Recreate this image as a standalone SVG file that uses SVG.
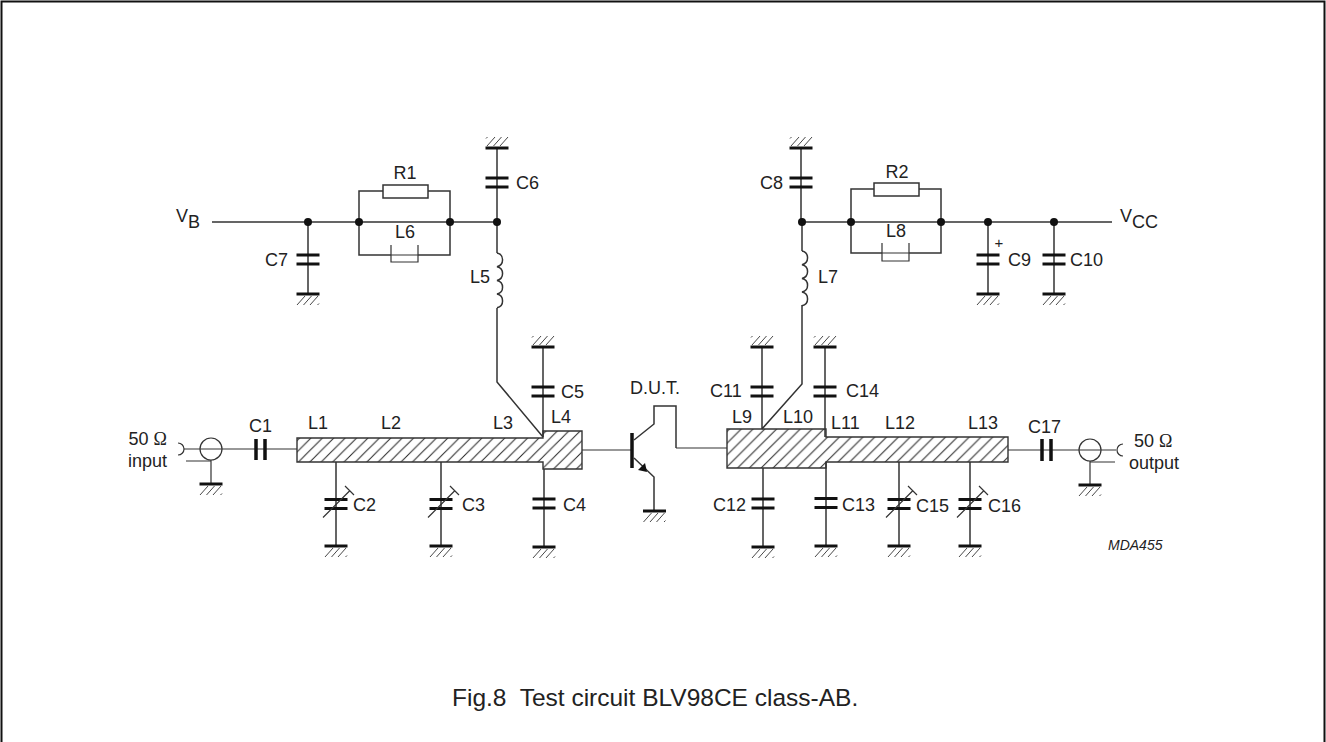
<svg xmlns="http://www.w3.org/2000/svg" width="1326" height="742" viewBox="0 0 1326 742">
<style>
text{font-family:"Liberation Sans",Arial,sans-serif;font-size:18px;fill:#222}
.w{fill:none;stroke:#333;stroke-width:1.5}
.n{fill:none;stroke:#333;stroke-width:1.2}
.p{fill:none;stroke:#111;stroke-width:3}
.d{fill:#111}
.m{text-anchor:middle}
.o{font-family:"Liberation Serif",serif}
</style>
<defs>
<pattern id="hatchL" patternUnits="userSpaceOnUse" width="11.4" height="11.4" patternTransform="translate(8 0)"><path d="M-1 12.4L12.4 -1M-1 1L1 -1M10.4 12.4L12.4 10.4" stroke="#222" stroke-width="1" fill="none"/></pattern>
<pattern id="hatchR" patternUnits="userSpaceOnUse" width="11.8" height="11.8" patternTransform="translate(2 0)"><path d="M-1 12.8L12.8 -1M-1 1L1 -1M10.8 12.8L12.8 10.8" stroke="#222" stroke-width="1" fill="none"/></pattern>
<g id="gnd"><path class="p" d="M-11.5 0H11.5"/><path d="M-11 11L-3 2M-4.5 11L3.5 2M2 11L10 2M9.5 11L11 9.5" fill="none" stroke="#333" stroke-width="0.9"/></g>
<g id="cap"><path class="p" d="M-11.5 -4.5H11.5M-11.5 4.5H11.5"/></g>
<g id="vcap"><path class="p" d="M-11.5 -4.5H11.5M-11.5 4.5H11.5"/><path class="n" d="M-13 13.5L14 -13.5M9 -18L18 -9"/></g>
<g id="coil"><path class="w" d="M0 0A7 7 0 0 1 0 13.7A7 7 0 0 1 0 27.4A7 7 0 0 1 0 41.1A7 7 0 0 1 0 54.8"/></g>
</defs>
<rect width="1326" height="742" fill="#fff"/>
<path d="M1.500 742V1.500H1324.500V742" fill="none" stroke="#111" stroke-width="2"/>
<g id="connectors">
<path class="w" d="M212 222H497M497 148V222V253M497 308V382L543 437M308 222V294M543 347V437M544 469V547M336 462V546M441 462V546"/>
<path class="w" d="M359 222V191H383M428 191H450V255H418M391 255H359V222"/>
<path class="w" d="M802 222H1112M801 148V222M802 222V251M802 305V384L762 429M762 347V429M825 347V437M763 468V547M826 462V546M899 462V546M970 462V546M988 222V294M1054 222V294"/>
<path class="w" d="M851 222V189H874M919 189H941V253H909M882 253H851V222"/>
<path class="n" d="M184 449H297M186 461H211M211 460V484M582 450H632M676 448H727M1008 450H1116M1090 462H1115M1090 461V485"/>
<path class="w" d="M634 440L654 424V406H676V448M634 458L654 477V511"/>
</g>
<g id="caption"><text x="452" y="706" xml:space="preserve" style="font-size:24.5px;white-space:pre">Fig.8  Test circuit BLV98CE class-AB.</text></g>
<g id="drawing-code"><text x="1108" y="550" style="font-size:14px;font-style:italic">MDA455</text></g>
<g id="VB"><text x="176" y="222">V</text><text x="188" y="228">B</text></g>
<g id="VCC"><text x="1120" y="222">V</text><text x="1132" y="228">CC</text></g>
<g id="J1"><circle class="n" cx="211" cy="449" r="11"/><path class="n" d="M178 443A6 6 0 0 1 178 455"/><use href="#gnd" x="211" y="484"/><text x="167" y="445" text-anchor="end">50 <tspan class="o">Ω</tspan></text><text x="167" y="467" text-anchor="end">input</text></g>
<g id="J2"><circle class="n" cx="1090" cy="450" r="11"/><path class="n" d="M1123 444A6 6 0 0 0 1123 456"/><use href="#gnd" x="1090" y="485"/><text x="1134" y="447">50 <tspan class="o">Ω</tspan></text><text x="1129" y="469">output</text></g>
<g id="C1"><path class="p" style="stroke-width:3.5" d="M256 439V460M265 439V460"/><text x="249" y="432">C1</text></g>
<g id="C17"><path class="p" style="stroke-width:3.5" d="M1042 439V461M1051 439V461"/><text x="1028" y="433">C17</text></g>
<g id="TL1"><path fill="url(#hatchL)" stroke="#333" stroke-width="1.4" d="M297 438H543V431H582V469H543V462H297Z"/><text x="308" y="429">L1</text><text x="381" y="429">L2</text><text x="493" y="429">L3</text><text x="551" y="423">L4</text></g>
<g id="TL2"><path fill="url(#hatchR)" stroke="#333" stroke-width="1.4" d="M727 429H826V437H1008V462H826V468H727Z"/><text x="732" y="423">L9</text><text x="783" y="423">L10</text><text x="831" y="429">L11</text><text x="885" y="429">L12</text><text x="968" y="429">L13</text></g>
<g id="C2"><use href="#vcap" x="336" y="504"/><use href="#gnd" x="336" y="546"/><text x="353" y="511">C2</text></g>
<g id="C3"><use href="#vcap" x="441" y="504"/><use href="#gnd" x="441" y="546"/><text x="462" y="511">C3</text></g>
<g id="C4"><use href="#cap" x="544" y="503.5"/><use href="#gnd" x="544" y="547"/><text x="563" y="511">C4</text></g>
<g id="C5"><use href="#cap" x="543" y="391.5"/><use href="#gnd" transform="translate(543 347) rotate(180)"/><text x="561" y="398">C5</text></g>
<g id="C6"><use href="#cap" x="497" y="182.5"/><use href="#gnd" transform="translate(497 148) rotate(180)"/><text x="516" y="189">C6</text></g>
<g id="C7"><use href="#cap" x="308" y="259.5"/><use href="#gnd" x="308" y="294"/><text x="265" y="266">C7</text></g>
<g id="C8"><use href="#cap" x="801" y="182.5"/><use href="#gnd" transform="translate(801 148) rotate(180)"/><text x="760" y="189">C8</text></g>
<g id="C9"><use href="#cap" x="988" y="259.5"/><use href="#gnd" x="988" y="294"/><text x="999" y="248" class="m" style="font-size:15px">+</text><text x="1008" y="266">C9</text></g>
<g id="C10"><use href="#cap" x="1054" y="259.5"/><use href="#gnd" x="1054" y="294"/><text x="1070" y="266">C10</text></g>
<g id="C11"><use href="#cap" x="762" y="391.5"/><use href="#gnd" transform="translate(762 347) rotate(180)"/><text x="710" y="397">C11</text></g>
<g id="C12"><use href="#cap" x="763" y="503.5"/><use href="#gnd" x="763" y="547"/><text x="713" y="511">C12</text></g>
<g id="C13"><use href="#cap" x="826" y="503"/><use href="#gnd" x="826" y="546"/><text x="842" y="511">C13</text></g>
<g id="C14"><use href="#cap" x="825" y="391.5"/><use href="#gnd" transform="translate(825 347) rotate(180)"/><text x="846" y="397">C14</text></g>
<g id="C15"><use href="#vcap" x="899" y="504"/><use href="#gnd" x="899" y="546"/><text x="916" y="512">C15</text></g>
<g id="C16"><use href="#vcap" x="970" y="504"/><use href="#gnd" x="970" y="546"/><text x="988" y="512">C16</text></g>
<g id="R1"><rect class="w" x="383" y="185" width="45" height="13"/><text x="405" y="179" class="m">R1</text></g>
<g id="R2"><rect class="w" x="874" y="183" width="45" height="13"/><text x="897" y="178" class="m">R2</text></g>
<g id="L6"><path class="n" d="M391 245V262H418V245M391 255H418"/><text x="405" y="238" class="m">L6</text></g>
<g id="L8"><path class="n" d="M882 243V261H909V243M882 253H909"/><text x="896" y="237" class="m">L8</text></g>
<g id="L5"><use href="#coil" x="497" y="253"/><text x="470" y="283">L5</text></g>
<g id="L7"><use href="#coil" x="802" y="251"/><text x="818" y="283">L7</text></g>
<g id="DUT"><path d="M632 433V468" fill="none" stroke="#111" stroke-width="3.5"/><path class="d" d="M647 472L638 470L645 463Z"/><use href="#gnd" x="654.5" y="511"/><text x="630" y="394">D.U.T.</text></g>
<g id="junctions"><circle class="d" cx="308" cy="222" r="4"/><circle class="d" cx="359" cy="222" r="4"/><circle class="d" cx="450" cy="222" r="4"/><circle class="d" cx="497" cy="222" r="4"/><circle class="d" cx="802" cy="222" r="4"/><circle class="d" cx="851" cy="222" r="4"/><circle class="d" cx="941" cy="222" r="4"/><circle class="d" cx="988" cy="222" r="4"/><circle class="d" cx="1054" cy="222" r="4"/></g>
</svg>
